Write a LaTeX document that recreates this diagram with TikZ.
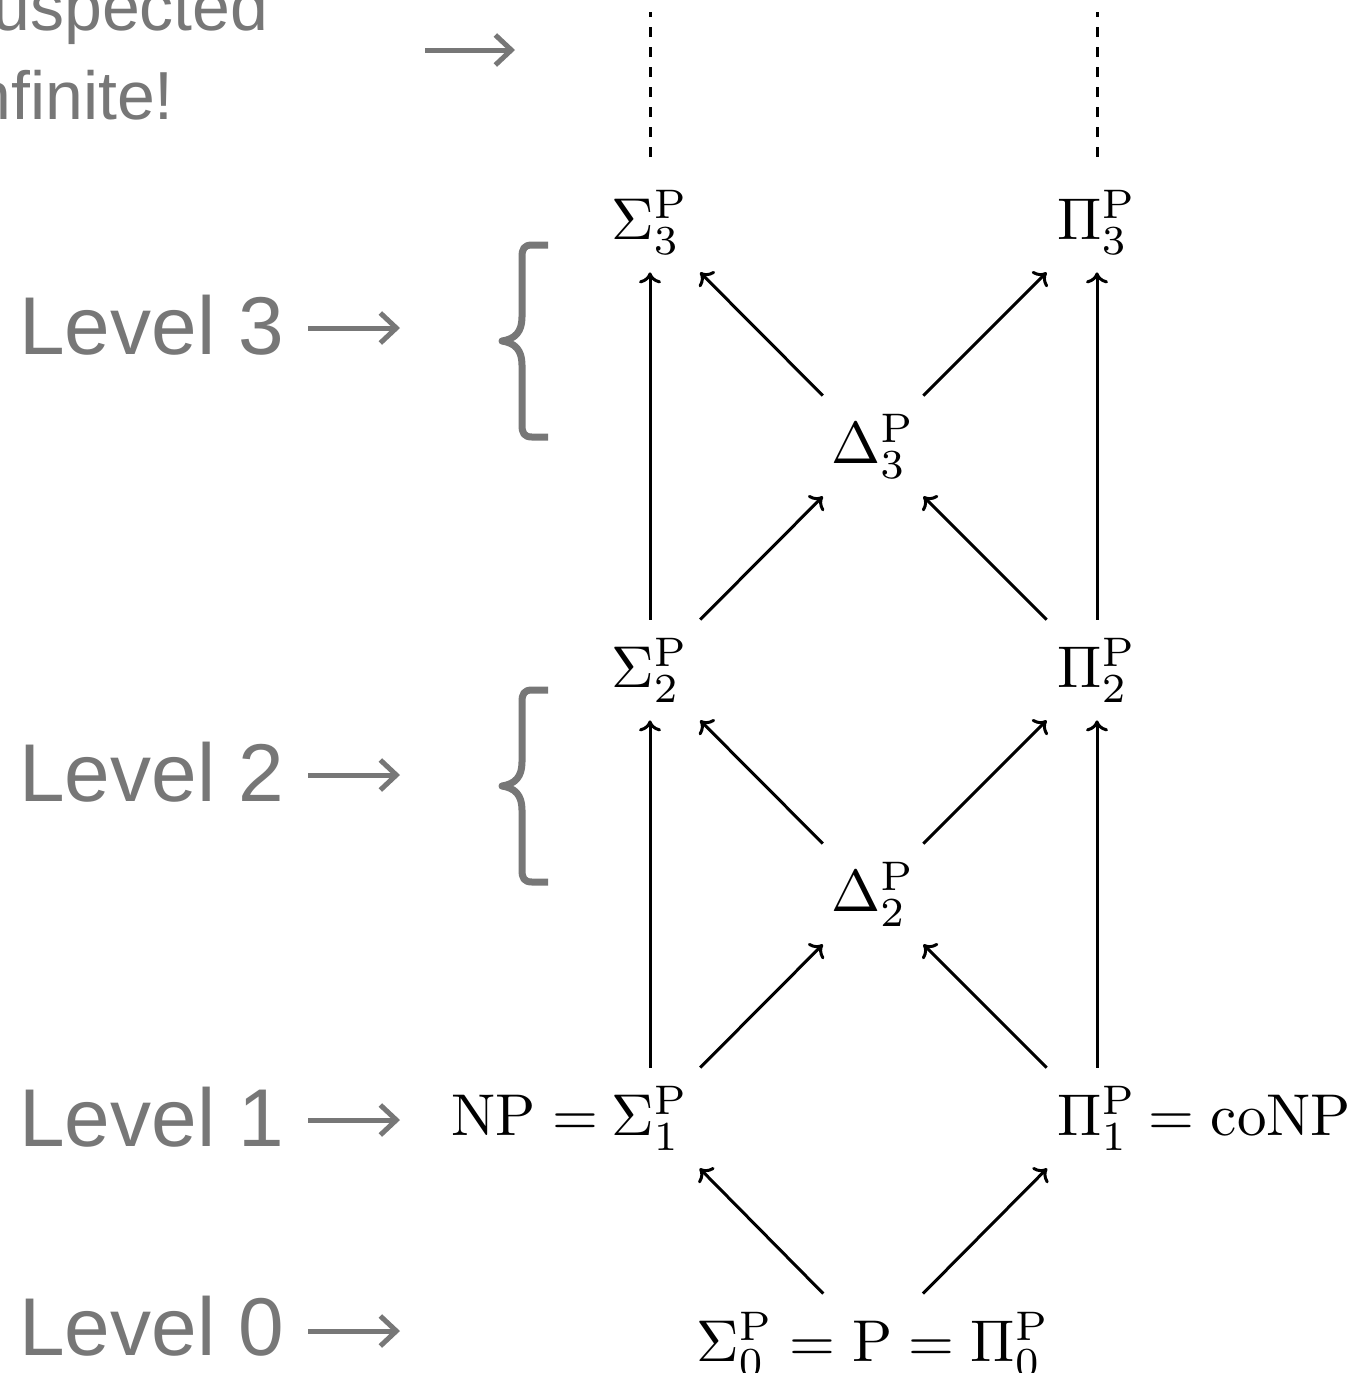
\documentclass[tikz,border=0pt]{standalone}
\usepackage{graphicx}
\usepackage[no-math]{fontspec}
\newfontfamily\lblfont{Liberation Sans}
\usetikzlibrary{arrows.meta}
\definecolor{labgray}{RGB}{119,119,119}
\newcommand\cxm[1]{\scalebox{2.95}{$#1$}}
\begin{document}
\begin{tikzpicture}[x=0.5pt,y=-0.5pt,
  cx/.style={shape=rectangle, minimum width=50pt, minimum height=50pt, inner sep=0pt},
  eqpart/.style={inner sep=0pt},
  arr/.style={-{Computer Modern Rightarrow[length=5.5pt,width=11pt]}, line width=1.5pt},
  dsh/.style={line width=1.5pt, dash pattern=on 5pt off 5pt, shorten <=7.5pt},
  lvl/.style={text=labgray, font=\lblfont\fontsize{41}{49}\selectfont, inner sep=0pt, anchor=west},
  note/.style={text=labgray, font=\lblfont\fontsize{34}{44.5}\selectfont, inner sep=0pt, align=left, anchor=north west},
  garrow/.style={draw=labgray, line width=2.5pt, -{Straight Barb[length=8pt,width=15pt]}},
  gbrace/.pic={\draw[labgray, line width=3.5pt, line join=round]
     (46,-96) -- (30,-96) .. controls (22,-96) and (20,-92) .. (20,-84) -- (20,-24)
     .. controls (20,-9) and (13,-2) .. (0,0) .. controls (13,2) and (20,9) .. (20,24)
     -- (20,84) .. controls (20,92) and (22,96) .. (30,96) -- (46,96);}
]
\useasboundingbox (0,0) rectangle (1351,1373);
\clip (0,0) rectangle (1351,1373);

% hierarchy nodes
\node[cx] (s3) at (650,222) {\cxm{\Sigma_3^{\mathrm{P}}}};
\node[cx] (p3) at (1097,222) {\cxm{\Pi_3^{\mathrm{P}}}};
\node[cx] (d3) at (873,446) {\cxm{\Delta_3^{\mathrm{P}}}};
\node[cx] (s2) at (650,670) {\cxm{\Sigma_2^{\mathrm{P}}}};
\node[cx] (p2) at (1097,670) {\cxm{\Pi_2^{\mathrm{P}}}};
\node[cx] (d2) at (873,894) {\cxm{\Delta_2^{\mathrm{P}}}};
\node[cx] (s1) at (650,1118) {\cxm{\Sigma_1^{\mathrm{P}}}};
\node[cx] (p1) at (1097,1118) {\cxm{\Pi_1^{\mathrm{P}}}};
\node[cx] (b0) at (873,1344) {\makebox[0pt]{\cxm{\Sigma_0^{\mathrm{P}} = \mathrm{P} = \Pi_0^{\mathrm{P}}}}};
\node[eqpart, anchor=base east] (np) at ([xshift=-17.5pt]s1.base) {\cxm{\mathrm{NP} = {}}};
\node[eqpart, anchor=base west] (co) at ([xshift=17.5pt]p1.base) {\cxm{{} = \mathrm{coNP}}};

% top dashed continuations
\coordinate (t3) at (650,12);
\coordinate (u3) at (1097,12);
\draw[dsh] (s3) -- (t3);
\draw[dsh] (p3) -- (u3);

% arrows
\draw[arr] (b0) -- (s1);
\draw[arr] (b0) -- (p1);
\draw[arr] (s1) -- (s2);
\draw[arr] (p1) -- (p2);
\draw[arr] (s1) -- (d2);
\draw[arr] (p1) -- (d2);
\draw[arr] (d2) -- (s2);
\draw[arr] (d2) -- (p2);
\draw[arr] (s2) -- (s3);
\draw[arr] (p2) -- (p3);
\draw[arr] (s2) -- (d3);
\draw[arr] (p2) -- (d3);
\draw[arr] (d3) -- (s3);
\draw[arr] (d3) -- (p3);

% level labels
\node[lvl] (l3) at (19,325) {Level 3};
\node[lvl] (l2) at (19,772) {Level 2};
\node[lvl] (l1) at (19,1117) {Level 1};
\node[lvl] (l0) at (19,1326) {Level 0};
\coordinate (l3s) at (308,328); \coordinate (l3e) at (400,328);
\coordinate (l2s) at (308,775); \coordinate (l2e) at (400,775);
\coordinate (l1s) at (308,1120); \coordinate (l1e) at (400,1120);
\coordinate (l0s) at (308,1331); \coordinate (l0e) at (400,1331);
\draw[garrow] (l3s) -- (l3e);
\draw[garrow] (l2s) -- (l2e);
\draw[garrow] (l1s) -- (l1e);
\draw[garrow] (l0s) -- (l0e);

% braces
\pic at (502,341) {gbrace};
\pic at (502,786) {gbrace};

% top note
\node[note] (nt) at (-42,-19) {suspected\\infinite!};
\coordinate (nts) at (425,50); \coordinate (nte) at (515,50);
\draw[garrow] (nts) -- (nte);
\end{tikzpicture}
\end{document}
